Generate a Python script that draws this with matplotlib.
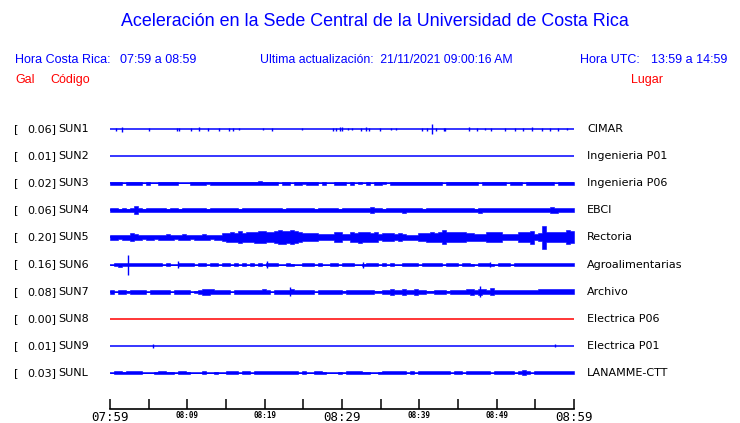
import numpy as np
import matplotlib
matplotlib.use("Agg")
import matplotlib.pyplot as plt
from matplotlib.transforms import blended_transform_factory

BLUE = "#0000ff"
RED = "#ff0000"

# stations (top to bottom)
CODES = ["SUN1", "SUN2", "SUN3", "SUN4", "SUN5", "SUN6", "SUN7", "SUN8", "SUN9", "SUNL"]
GAL = [0.06, 0.01, 0.02, 0.06, 0.20, 0.16, 0.08, 0.00, 0.01, 0.03]
PLACES = ["CIMAR", "Ingenieria P01", "Ingenieria P06", "EBCI", "Rectoria",
          "Agroalimentarias", "Archivo", "Electrica P06", "Electrica P01", "LANAMME-CTT"]
TRACE_COLORS = [BLUE, BLUE, BLUE, BLUE, BLUE, BLUE, BLUE, RED, BLUE, BLUE]

# time axis, minutes after 07:59
TICK_MIN = [0, 5, 10, 15, 20, 25, 30, 35, 40, 45, 50, 55, 60]
TICK_LABELS = ["07:59", "", "08:09", "", "08:19", "", "08:29", "", "08:39", "", "08:49", "", "08:59"]
BIG_LABELS = ["07:59", "08:29", "08:59"]

# envelope half-amplitude per bin (116 bins over the hour), in half-pixel units
SUN3_ENV = [3, 3, 3, 0, 3, 3, 3, 3, 0, 3,
            0, 0, 3, 3, 3, 3, 3, 0, 0, 0,
            3, 3, 3, 3, 2, 3, 3, 3, 3, 3,
            3, 3, 3, 3, 3, 3, 3, 4, 3, 3,
            3, 3, 0, 3, 3, 0, 3, 3, 2, 3,
            3, 3, 0, 3, 0, 0, 3, 3, 3, 0,
            3, 0, 2, 0, 3, 0, 3, 3, 2, 0,
            3, 3, 3, 3, 3, 3, 3, 3, 3, 3,
            3, 3, 3, 0, 3, 3, 3, 3, 3, 3,
            3, 3, 0, 3, 3, 3, 3, 3, 3, 0,
            3, 3, 3, 0, 3, 3, 3, 3, 3, 3,
            3, 0, 3, 3, 3, 3]
SUN4_ENV = [4, 4, 3, 4, 3, 4, 8, 4, 3, 4,
            4, 4, 4, 4, 3, 4, 4, 3, 4, 4,
            4, 4, 4, 4, 3, 4, 4, 4, 4, 4,
            4, 4, 3, 4, 4, 4, 4, 4, 4, 4,
            4, 4, 4, 3, 4, 4, 4, 4, 4, 4,
            4, 3, 4, 4, 4, 4, 4, 3, 4, 4,
            4, 4, 4, 4, 4, 6, 4, 4, 3, 4,
            4, 4, 4, 5, 4, 4, 4, 4, 3, 4,
            4, 4, 4, 4, 4, 4, 4, 4, 4, 4,
            4, 3, 5, 4, 4, 4, 4, 4, 4, 4,
            4, 4, 4, 4, 4, 4, 4, 4, 4, 4,
            6, 5, 4, 4, 4, 4]
SUN5_ENV = [5, 5, 4, 5, 5, 8, 6, 5, 4, 5,
            5, 4, 5, 5, 6, 5, 4, 5, 6, 5,
            4, 5, 5, 6, 5, 4, 5, 5, 8, 9,
            10, 9, 12, 9, 10, 10, 11, 12, 12, 10,
            10, 12, 14, 13, 12, 14, 12, 10, 8, 8,
            8, 8, 6, 6, 6, 6, 10, 10, 6, 6,
            10, 9, 11, 10, 10, 9, 10, 6, 8, 8,
            8, 6, 8, 6, 5, 5, 5, 8, 8, 9,
            10, 9, 10, 14, 10, 10, 10, 10, 10, 8,
            8, 7, 7, 7, 10, 10, 10, 10, 6, 6,
            6, 6, 10, 10, 10, 13, 6, 8, 23, 10,
            10, 10, 10, 10, 14, 12]
SUN6_ENV = [0, 3, 4, 3, 3, 3, 3, 3, 3, 3,
            3, 3, 3, 0, 3, 0, 0, 3, 3, 3,
            3, 0, 3, 3, 0, 3, 3, 0, 3, 3,
            0, 3, 0, 3, 0, 3, 0, 3, 0, 3,
            3, 3, 0, 0, 3, 2, 0, 0, 3, 3,
            3, 0, 3, 0, 0, 3, 3, 0, 3, 3,
            3, 0, 0, 2, 3, 3, 3, 0, 3, 0,
            3, 0, 0, 3, 3, 3, 3, 0, 3, 3,
            3, 3, 3, 0, 3, 3, 3, 0, 3, 3,
            2, 0, 3, 3, 3, 2, 0, 3, 3, 3,
            0, 3, 3, 3, 3, 3, 3, 3, 3, 3,
            3, 3, 3, 3, 3, 3]
SUN7_ENV = [4, 0, 4, 4, 2, 4, 4, 4, 4, 0,
            4, 4, 4, 4, 4, 0, 4, 4, 4, 4,
            0, 2, 4, 6, 6, 5, 4, 4, 4, 4,
            0, 4, 4, 4, 4, 4, 4, 4, 5, 4,
            0, 4, 4, 4, 4, 5, 4, 4, 4, 4,
            4, 0, 4, 4, 4, 4, 4, 4, 2, 4,
            4, 4, 4, 4, 4, 4, 2, 2, 4, 4,
            6, 4, 4, 6, 4, 4, 6, 4, 4, 2,
            2, 4, 4, 4, 2, 4, 4, 4, 4, 5,
            6, 4, 6, 5, 4, 7, 4, 4, 4, 4,
            4, 4, 4, 4, 4, 4, 4, 5, 5, 5,
            5, 5, 5, 5, 5, 5]
SUNL_ENV = [0, 3, 3, 2, 3, 3, 3, 3, 0, 0,
            0, 2, 3, 3, 2, 2, 0, 3, 3, 2,
            0, 0, 0, 3, 0, 0, 2, 0, 0, 3,
            3, 3, 0, 3, 3, 0, 3, 3, 3, 3,
            3, 3, 3, 3, 3, 3, 3, 0, 3, 0,
            0, 3, 3, 2, 0, 0, 0, 2, 0, 3,
            3, 3, 3, 2, 2, 0, 0, 2, 3, 3,
            3, 3, 3, 3, 0, 3, 0, 3, 3, 3,
            3, 3, 3, 3, 3, 0, 3, 3, 0, 3,
            3, 3, 3, 3, 3, 0, 3, 3, 3, 3,
            3, 0, 3, 5, 3, 0, 3, 3, 3, 3,
            3, 3, 3, 3, 3, 3]

# isolated spikes: time (min) and half-amplitude (px)
SUN1_SPIKE_T = [0.78, 1.55, 5.04, 8.66, 8.92, 10.47, 11.51, 12.67, 14.09, 15.39,
                15.90, 16.68, 19.78, 20.95, 24.83, 28.84, 29.22, 29.74, 30.0, 30.78,
                31.29, 32.46, 33.10, 33.49, 34.91, 36.34, 36.98, 40.34, 40.99, 41.64,
                42.16, 43.19, 43.32, 46.42, 47.46, 48.49, 49.27, 51.08, 52.37, 53.41,
                54.57, 55.86, 56.90, 57.93, 59.09]
SUN1_SPIKE_A = [1.5, 2.5, 1.5, 1.5, 1.5, 1.5, 2, 1.5, 1.5, 1.5,
                1.5, 1.2, 1.2, 1.5, 1.2, 1.5, 1.5, 2, 2, 1.2,
                1.2, 1.5, 2, 1.5, 1.5, 1.2, 1.2, 1.5, 1.5, 5,
                1.5, 1.5, 1.5, 2, 1.5, 1.2, 1.5, 1.5, 1.5, 1.5,
                2, 1.5, 1.5, 1.5, 1.2]
SUN6_SPIKE_T = [2.33, 8.79, 20.3, 32.7, 49.1]
SUN6_SPIKE_A = [10, 3.5, 3.5, 3, 2.5]
SUN7_SPIKE_T = [23.28, 47.84]
SUN7_SPIKE_A = [4.5, 5.5]
SUN9_SPIKE_T = [5.56, 57.54]
SUN9_SPIKE_A = [2, 1.5]

ENVS = [None, None, SUN3_ENV, SUN4_ENV, SUN5_ENV, SUN6_ENV, SUN7_ENV, None, None, SUNL_ENV]
SPIKES = [(SUN1_SPIKE_T, SUN1_SPIKE_A), None, None, None, None,
          (SUN6_SPIKE_T, SUN6_SPIKE_A), (SUN7_SPIKE_T, SUN7_SPIKE_A), None,
          (SUN9_SPIKE_T, SUN9_SPIKE_A), None]

W, H = 740, 423
ROW_PX = 27.11

plt.rcParams["font.family"] = ["Liberation Sans", "DejaVu Sans"]
fig = plt.figure(figsize=(W / 100, H / 100), dpi=100)
fig.patch.set_facecolor("white")


def fx(px):
    return px / W


def fy(py):
    return 1 - py / H


ax = fig.add_axes([fx(110), fy(409), fx(574) - fx(110), fy(115) - fy(409)])
ax.set_xlim(0, 60)
ax.set_ylim((409 - 129) / ROW_PX, -(129 - 115) / ROW_PX)
for side in ["top", "left", "right"]:
    ax.spines[side].set_visible(False)
ax.spines["bottom"].set_linewidth(1.2)
ax.set_yticks([])

edges = np.linspace(0, 60, 117)
for i, code in enumerate(CODES):
    c = TRACE_COLORS[i]
    ax.plot([0, 60], [i, i], color=c, lw=1.1, solid_capstyle="butt")
    env = ENVS[i]
    if env is not None:
        half = np.array(env, dtype=float) * 0.5 / ROW_PX
        half = np.r_[half, half[-1]]
        ax.fill_between(edges, i - half, i + half, step="post", color=c, lw=0.4)
    sp = SPIKES[i]
    if sp is not None:
        t, a = np.array(sp[0]), np.array(sp[1]) / ROW_PX
        ax.vlines(t, i - a, i + a, color=c, lw=1.0)

# time ticks
ax.set_xticks(TICK_MIN)
ax.set_xticklabels(TICK_LABELS, family="DejaVu Sans Mono")
ax.tick_params(axis="x", direction="in", length=7, width=1.1, pad=1.5)
for lab in ax.get_xticklabels():
    if lab.get_text() in BIG_LABELS:
        lab.set_fontsize(9)
    else:
        lab.set_fontsize(5.5)
        lab.set_fontweight("bold")

# row labels
tr = blended_transform_factory(fig.transFigure, ax.transData)
for i, code in enumerate(CODES):
    ax.text(fx(14), i, "[", transform=tr, fontsize=8, family="DejaVu Sans", va="center", ha="left")
    ax.text(fx(56), i, f"{GAL[i]:.2f}]", transform=tr, fontsize=8, family="DejaVu Sans",
            va="center", ha="right")
    ax.text(fx(58), i, code, transform=tr, fontsize=8, family="DejaVu Sans", va="center", ha="left")
    ax.text(fx(587), i, PLACES[i], transform=tr, fontsize=8, family="DejaVu Sans",
            va="center", ha="left")

# header
fig.text(fx(375), fy(21), "Aceleración en la Sede Central de la Universidad de Costa Rica",
         color=BLUE, fontsize=12.9, ha="center", va="center")
fig.text(fx(15), fy(60), "Hora Costa Rica:", color=BLUE, fontsize=9, va="center")
fig.text(fx(120), fy(60), "07:59 a 08:59", color=BLUE, fontsize=9, va="center")
fig.text(fx(260), fy(60), "Ultima actualización:  21/11/2021 09:00:16 AM", color=BLUE,
         fontsize=8.8, va="center")
fig.text(fx(580), fy(60), "Hora UTC:", color=BLUE, fontsize=9, va="center")
fig.text(fx(651), fy(60), "13:59 a 14:59", color=BLUE, fontsize=9, va="center")
fig.text(fx(15), fy(80), "Gal", color=RED, fontsize=9, va="center")
fig.text(fx(50), fy(80), "Código", color=RED, fontsize=9, va="center")
fig.text(fx(631), fy(80), "Lugar", color=RED, fontsize=9, va="center")

fig.savefig("out.png", dpi=100)
